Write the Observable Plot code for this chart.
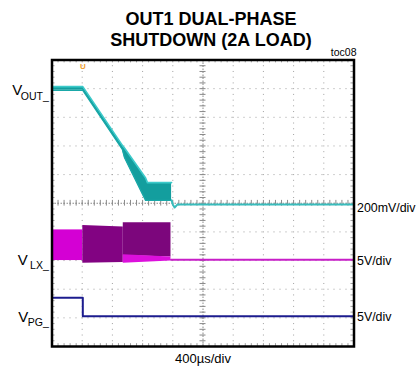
<!DOCTYPE html>
<html>
<head>
<meta charset="utf-8">
<script src="https://cdn.jsdelivr.net/npm/d3@7"></script>
<script src="https://cdn.jsdelivr.net/npm/@observablehq/plot@0.6"></script>
<style>
  html, body { margin: 0; padding: 0; background: #fff; }
  svg { display: block; }
</style>
</head>
<body>
<div id="chart"></div>
<script>
// ---- data (time in divisions 0..10, voltage in divisions 0..10 from bottom) ----
const titleLines = ["OUT1 DUAL-PHASE", "SHUTDOWN (2A LOAD)"];
const figId = "toc08";
const xLabel = "400µs/div";

// VOUT_ envelope (band) during the ramp-down
const voutT  = [0,    1.02, 2.33, 2.40, 3.10, 3.16, 3.96];
const voutHi = [9.07, 9.07, 7.02, 6.93, 5.88, 5.72, 5.72];
const voutLo = [8.94, 8.94, 6.88, 6.60, 5.10, 5.10, 5.10];
// VOUT_ after switching stops
const voutLineT = [3.96, 4.00, 4.06, 4.16, 10];
const voutLineV = [5.10, 4.96, 4.85, 4.96, 4.96];

// VLX_ switching envelopes
const lxSeg = ["A", "A", "B", "B", "C", "C", "D", "D"];
const lxT   = [0, 1.02, 1.02, 2.36, 2.36, 3.94, 2.36, 3.94];
const lxLo  = [3.00, 3.00, 2.91, 2.93, 3.18, 3.12, 2.91, 2.98];
const lxHi  = [4.07, 4.07, 4.22, 4.17, 4.32, 4.32, 3.20, 3.12];
const lxLineT = [3.94, 10];
const lxLineV = [3.03, 3.03];

// VPG_
const pgT = [0, 1.02, 1.02, 10];
const pgV = [1.70, 1.70, 1.06, 1.06];

// channel labels
const chanMain = ["V", "V", "V"];
const chanSub  = ["OUT_", "LX_", "PG_"];
const chanY    = [8.94, 3.01, 1.03];
const scaleLabels = ["200mV/div", "5V/div", "5V/div"];
const scaleY      = [4.85, 3.0, 1.04];
const triggerT = 1.02;

// ---- build tables ----
const voutBand = voutT.map((t, i) => ({t, hi: voutHi[i], lo: voutLo[i]}));
const voutLine = voutLineT.map((t, i) => ({t, v: voutLineV[i]}));
const lxBand = lxT.map((t, i) => ({seg: lxSeg[i], t, lo: lxLo[i], hi: lxHi[i]}));
const lxLine = lxLineT.map((t, i) => ({t, v: lxLineV[i]}));
const pgLine = pgT.map((t, i) => ({t, v: pgV[i]}));
const chans = chanMain.map((m, i) => ({m, s: chanSub[i], y: chanY[i]}));
const scales = scaleLabels.map((l, i) => ({l, y: scaleY[i]}));

const majors = d3.range(1, 10);
const minors = d3.range(0, 10.0001, 0.2);
const font = "Liberation Sans, Arial, sans-serif";
const narrow = "Liberation Sans Narrow, Arial Narrow, Liberation Sans, Arial, sans-serif";

const mainDx = [-29.8, -24.2, -23.8];

const chart = Plot.plot({
  width: 417,
  height: 372,
  marginLeft: 51.5,
  marginRight: 63.5,
  marginTop: 59.5,
  marginBottom: 26,
  x: {domain: [0, 10], axis: null},
  y: {domain: [0, 10], axis: null},
  color: {type: "ordinal", domain: ["A", "B", "C", "D"], range: ["#d400d4", "#820382", "#7c067c", "#dc10dc"]},
  style: {fontFamily: font, background: "white"},
  marks: [
    // grid
    Plot.ruleX(majors, {stroke: "#a0a0a0", strokeDasharray: "1,4.73", strokeWidth: 1}),
    Plot.ruleY(majors, {stroke: "#a0a0a0", strokeDasharray: "1,5", strokeWidth: 1}),
    Plot.ruleX([5], {stroke: "#8a8a8a", strokeDasharray: "1.5,1.5", strokeWidth: 1}),
    Plot.ruleY([5], {stroke: "#8a8a8a", strokeDasharray: "1.5,1.5", strokeWidth: 1}),
    Plot.ruleX(minors, {y1: 4.9, y2: 5.1, stroke: "#8a8a8a"}),
    Plot.ruleY(minors, {x1: 4.9, x2: 5.1, stroke: "#8a8a8a"}),
    Plot.ruleX(minors, {y1: 0, y2: 0.1, stroke: "#a0a0a0"}),
    Plot.ruleX(minors, {y1: 9.9, y2: 10, stroke: "#a0a0a0"}),
    Plot.ruleY(minors, {x1: 0, x2: 0.1, stroke: "#a0a0a0"}),
    Plot.ruleY(minors, {x1: 9.9, x2: 10, stroke: "#a0a0a0"}),

    // VLX_
    Plot.areaY(lxBand, {x: "t", y1: "lo", y2: "hi", z: "seg", fill: "seg", curve: "linear"}),
    Plot.line(lxLine, {x: "t", y: "v", stroke: "#c81ec8", strokeWidth: 2}),

    // VOUT_
    Plot.areaY(voutBand, {x: "t", y1: "lo", y2: "hi", fill: "#139e9e"}),
    Plot.line(voutBand, {x: "t", y: "hi", stroke: "#3ccaca", strokeWidth: 1.6}),
    Plot.line(voutBand, {x: "t", y: "lo", stroke: "#1aa8a8", strokeWidth: 1.4}),
    Plot.line(voutLine, {x: "t", y: "v", stroke: "#38bcbc", strokeWidth: 2}),

    // VPG_
    Plot.line(pgLine, {x: "t", y: "v", stroke: "#1c1c8e", strokeWidth: 2}),

    // trigger marker
    Plot.text([triggerT], {x: d => d, y: 9.77, text: () => "U", fill: "#f0a030", fontSize: 8, fontWeight: "bold"}),

    // frame
    Plot.frame({stroke: "black", strokeWidth: 2.5}),

    // channel labels (left)
    ...chans.map((c, i) => Plot.text([c], {x: 0, y: "y", text: "m", textAnchor: "end", dx: mainDx[i], fontSize: 15, fill: "black"})),
    Plot.text(chans, {x: 0, y: "y", text: "s", textAnchor: "end", dx: -3.2, dy: 5.8, fontSize: 10.5, fill: "black"}),

    // scale labels (right)
    Plot.text(scales, {x: 10, y: "y", text: "l", textAnchor: "start", dx: 3, fontSize: 12.4, fill: "black"}),

    // x scale label
    Plot.text([xLabel], {frameAnchor: "bottom", text: d => d, dy: 16, fontSize: 13, fill: "black"}),

    // figure id
    Plot.text([figId], {frameAnchor: "top-right", text: d => d, textAnchor: "end", lineAnchor: "bottom", dx: 2.5, dy: -4.5, fontSize: 10.5, fill: "black"}),

    // title
    Plot.text([titleLines[0]], {frameAnchor: "top", text: d => d, lineAnchor: "bottom", dx: 8, dy: -35.5, fontSize: 18, fontWeight: "bold", fontFamily: narrow, fill: "black"}),
    Plot.text([titleLines[1]], {frameAnchor: "top", text: d => d, lineAnchor: "bottom", dx: 8, dy: -14.5, fontSize: 18, fontWeight: "bold", fontFamily: narrow, fill: "black"})
  ]
});
document.getElementById("chart").appendChild(chart);
</script>
</body>
</html>
